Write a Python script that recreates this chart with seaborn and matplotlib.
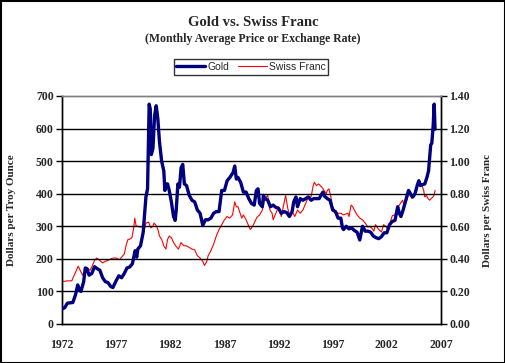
import pandas as pd
import seaborn as sns
import matplotlib.pyplot as plt
from matplotlib.lines import Line2D
from matplotlib.patches import Rectangle
from matplotlib.ticker import MultipleLocator, FuncFormatter

# ---------------------------------------------------------
# data (decimal year, value)
# ---------------------------------------------------------
gold_year = [1972.0, 1972.25, 1972.5, 1972.75, 1973.0, 1973.25, 1973.45, 1973.6, 1973.75, 1974.0,
             1974.15, 1974.3, 1974.5, 1974.75, 1975.0, 1975.25, 1975.5, 1975.75, 1976.0, 1976.25,
             1976.5, 1976.7, 1977.0, 1977.25, 1977.5, 1977.75, 1978.0, 1978.25, 1978.5, 1978.75,
             1978.9, 1979.0, 1979.25, 1979.5, 1979.75, 1979.9, 1980.05, 1980.15, 1980.25, 1980.4,
             1980.55, 1980.7, 1980.85, 1981.0, 1981.2, 1981.4, 1981.5, 1981.6, 1981.75, 1981.9,
             1982.1, 1982.3, 1982.45, 1982.55, 1982.7, 1982.85, 1983.0, 1983.15, 1983.3, 1983.5,
             1983.75, 1984.0, 1984.25, 1984.5, 1984.75, 1985.0, 1985.25, 1985.5, 1985.75, 1986.0,
             1986.25, 1986.5, 1986.75, 1987.0, 1987.25, 1987.5, 1987.8, 1987.95, 1988.1, 1988.25,
             1988.5, 1988.75, 1989.0, 1989.25, 1989.5, 1989.75, 1989.95, 1990.1, 1990.25, 1990.5,
             1990.6, 1990.75, 1991.0, 1991.25, 1991.5, 1991.75, 1992.0, 1992.25, 1992.5, 1992.75,
             1993.0, 1993.25, 1993.4, 1993.6, 1993.75, 1994.0, 1994.25, 1994.5, 1994.75, 1995.0,
             1995.25, 1995.5, 1995.75, 1996.0, 1996.1, 1996.25, 1996.5, 1996.75, 1997.0, 1997.25,
             1997.5, 1997.75, 1997.9, 1998.0, 1998.25, 1998.5, 1998.75, 1999.0, 1999.25, 1999.5,
             1999.75, 1999.85, 2000.0, 2000.25, 2000.5, 2000.75, 2001.0, 2001.25, 2001.5, 2001.75,
             2002.0, 2002.25, 2002.5, 2002.75, 2003.0, 2003.15, 2003.3, 2003.5, 2003.75, 2004.0,
             2004.1, 2004.25, 2004.4, 2004.6, 2004.8, 2004.95, 2005.1, 2005.3, 2005.5, 2005.7,
             2005.85, 2005.95, 2006.05, 2006.15, 2006.28, 2006.37, 2006.45]
gold_price = [46, 50, 64, 65, 66, 90, 120, 105, 100, 130,
              172, 170, 150, 155, 176, 170, 165, 142, 130, 127,
              115, 112, 133, 148, 142, 155, 172, 175, 185, 225,
              205, 230, 240, 282, 390, 415, 675, 660, 520, 540,
              640, 670, 630, 560, 500, 470, 410, 430, 430, 410,
              375, 330, 318, 350, 430, 420, 480, 490, 430, 425,
              395, 380, 375, 350, 340, 303, 320, 320, 325, 340,
              345, 345, 410, 410, 440, 450, 465, 485, 445, 450,
              435, 405, 405, 385, 370, 365, 410, 415, 370, 360,
              395, 385, 380, 360, 365, 358, 355, 340, 345, 342,
              330, 345, 375, 390, 360, 385, 380, 385, 390, 380,
              385, 385, 385, 400, 405, 392, 385, 380, 350, 345,
              325, 325, 295, 290, 300, 292, 295, 287, 282, 258,
              300, 295, 285, 285, 282, 270, 265, 262, 268, 280,
              280, 305, 315, 318, 360, 340, 330, 350, 380, 410,
              405, 395, 390, 400, 425, 440, 425, 428, 430, 450,
              470, 510, 550, 555, 610, 675, 598]

franc_year = [1972.0, 1972.5, 1972.9, 1973.0, 1973.2, 1973.5, 1973.6, 1973.75, 1973.9, 1974.0,
              1974.25, 1974.4, 1974.6, 1974.75, 1975.0, 1975.2, 1975.5, 1975.75, 1976.0, 1976.25,
              1976.5, 1976.75, 1977.0, 1977.3, 1977.5, 1977.75, 1977.95, 1978.1, 1978.25, 1978.45,
              1978.6, 1978.72, 1978.85, 1979.0, 1979.25, 1979.5, 1979.6, 1979.75, 1980.0, 1980.2,
              1980.4, 1980.5, 1980.75, 1980.9, 1981.0, 1981.2, 1981.4, 1981.6, 1981.75, 1981.9,
              1982.1, 1982.3, 1982.5, 1982.75, 1983.0, 1983.25, 1983.5, 1983.75, 1984.0, 1984.25,
              1984.5, 1984.75, 1985.0, 1985.15, 1985.35, 1985.5, 1985.75, 1986.0, 1986.25, 1986.5,
              1986.75, 1987.0, 1987.25, 1987.5, 1987.75, 1987.95, 1988.1, 1988.25, 1988.4, 1988.6,
              1988.75, 1989.0, 1989.25, 1989.4, 1989.6, 1989.75, 1990.0, 1990.25, 1990.5, 1990.75,
              1991.0, 1991.2, 1991.4, 1991.5, 1991.75, 1992.0, 1992.25, 1992.5, 1992.65, 1992.85,
              1993.0, 1993.25, 1993.5, 1993.75, 1994.0, 1994.25, 1994.5, 1994.75, 1995.0, 1995.2,
              1995.3, 1995.5, 1995.7, 1995.85, 1996.0, 1996.2, 1996.4, 1996.5, 1996.65, 1996.8,
              1997.0, 1997.25, 1997.5, 1997.75, 1998.0, 1998.2, 1998.4, 1998.5, 1998.7, 1998.85,
              1999.0, 1999.25, 1999.5, 1999.75, 2000.0, 2000.25, 2000.4, 2000.6, 2000.8, 2000.95,
              2001.1, 2001.25, 2001.5, 2001.7, 2001.9, 2002.0, 2002.25, 2002.5, 2002.75, 2003.0,
              2003.25, 2003.45, 2003.6, 2003.75, 2004.0, 2004.1, 2004.3, 2004.5, 2004.75, 2004.95,
              2005.1, 2005.25, 2005.4, 2005.5, 2005.65, 2005.8, 2005.95, 2006.1, 2006.25, 2006.35,
              2006.45]
franc_rate = [0.26, 0.265, 0.265, 0.28, 0.31, 0.355, 0.34, 0.32, 0.30, 0.31,
              0.335, 0.34, 0.33, 0.35, 0.39, 0.405, 0.39, 0.375, 0.385, 0.39,
              0.40, 0.405, 0.405, 0.395, 0.41, 0.43, 0.49, 0.52, 0.52, 0.53,
              0.58, 0.65, 0.60, 0.60, 0.595, 0.60, 0.58, 0.62, 0.625, 0.59,
              0.60, 0.62, 0.60, 0.57, 0.54, 0.52, 0.48, 0.46, 0.52, 0.54,
              0.53, 0.50, 0.48, 0.46, 0.50, 0.48, 0.48, 0.47, 0.46, 0.455,
              0.42, 0.405, 0.385, 0.36, 0.38, 0.42, 0.45, 0.49, 0.54, 0.58,
              0.61, 0.64, 0.66, 0.65, 0.67, 0.75, 0.72, 0.72, 0.69, 0.65,
              0.67, 0.64, 0.60, 0.58, 0.60, 0.62, 0.655, 0.67, 0.70, 0.77,
              0.79, 0.70, 0.68, 0.64, 0.68, 0.72, 0.66, 0.74, 0.79, 0.71,
              0.67, 0.69, 0.66, 0.70, 0.68, 0.70, 0.74, 0.78, 0.78, 0.85,
              0.87, 0.85, 0.86, 0.85, 0.84, 0.82, 0.80, 0.82, 0.83, 0.79,
              0.72, 0.69, 0.68, 0.68, 0.67, 0.675, 0.68, 0.66, 0.73, 0.72,
              0.70, 0.67, 0.65, 0.64, 0.62, 0.595, 0.60, 0.59, 0.57, 0.61,
              0.595, 0.58, 0.565, 0.61, 0.60, 0.59, 0.61, 0.665, 0.67, 0.715,
              0.74, 0.76, 0.73, 0.74, 0.80, 0.81, 0.77, 0.80, 0.83, 0.87,
              0.85, 0.85, 0.82, 0.78, 0.79, 0.77, 0.76, 0.77, 0.78, 0.79,
              0.82]

year_ticks = [1972, 1977, 1982, 1987, 1992, 1997, 2002, 2007]

gold_df = pd.DataFrame({'year': gold_year, 'price': gold_price})
franc_df = pd.DataFrame({'year': franc_year, 'rate': franc_rate})

# ---------------------------------------------------------
# style
# ---------------------------------------------------------
sns.set_style("white")
plt.rcParams['font.family'] = ['Liberation Serif', 'DejaVu Serif']

W, H = 506, 363
fig = plt.figure(figsize=(W / 100, H / 100), dpi=100)
ax = fig.add_axes([62 / W, 1 - 324 / H, (441 - 62) / W, (324 - 96) / H])
ax2 = ax.twinx()

sns.lineplot(data=gold_df, x='year', y='price', ax=ax, color='#000080', linewidth=2.4, zorder=4)
sns.lineplot(data=franc_df, x='year', y='rate', ax=ax2, color='#ff0000', linewidth=0.8, zorder=3)
ax.set_zorder(ax2.get_zorder() + 1)
ax.patch.set_visible(False)

ax.set_xlim(1972, 2007)
ax.set_ylim(0, 700)
ax2.set_ylim(0, 1.4)
ax.set_xticks(year_ticks)
ax.xaxis.set_minor_locator(MultipleLocator(1))
ax.yaxis.set_major_locator(MultipleLocator(100))
ax2.yaxis.set_major_locator(MultipleLocator(0.2))
ax2.yaxis.set_major_formatter(FuncFormatter(lambda v, p: f'{v:.2f}'))

for a in (ax, ax2):
    a.grid(False)
    a.set_xlabel('')
    for s in a.spines.values():
        s.set_color('black')
        s.set_linewidth(1)
    a.spines['top'].set_color('#808080')
    a.tick_params(axis='both', which='both', direction='out', length=4, width=1,
                  labelsize=8.5, pad=2, color='black')
    for lbl in a.get_xticklabels() + a.get_yticklabels():
        lbl.set_fontweight('bold')
ax.tick_params(axis='x', which='minor', length=3)
ax.tick_params(axis='x', pad=7)

# horizontal grid
for v in range(100, 700, 100):
    ax.axhline(v, color='black', linewidth=1, zorder=1)

ax.set_ylabel('Dollars per Troy Ounce', fontsize=8, fontweight='bold', labelpad=14)
ax2.set_ylabel('Dollars per Swiss Franc', fontsize=8, fontweight='bold', labelpad=9)

fig.text(0.5, 1 - 23 / H, 'Gold vs. Swiss Franc', ha='center', va='center',
         fontsize=10.5, fontweight='bold')
fig.text(0.5, 1 - 39 / H, '(Monthly Average Price or Exchange Rate)', ha='center', va='center',
         fontsize=8.5, fontweight='bold')

handles = [Line2D([], [], color='#000080', linewidth=2.4),
           Line2D([], [], color='#ff0000', linewidth=0.8)]
leg = fig.legend(handles, ['Gold', 'Swiss Franc'], loc='center', bbox_to_anchor=(251 / W, 1 - 67 / H),
                 ncol=2, frameon=True, fancybox=False, prop={'family': 'Liberation Sans', 'size': 7.5},
                 handlelength=2.8, handletextpad=0.2, columnspacing=0.8, borderpad=0.25,
                 borderaxespad=0)
leg.get_frame().set_edgecolor('black')
leg.get_frame().set_linewidth(1)

fig.patches.append(Rectangle((0.001, 0.001), 0.997, 0.996, transform=fig.transFigure,
                             fill=False, edgecolor='black', linewidth=1.5))

fig.savefig('out.png', dpi=100)
